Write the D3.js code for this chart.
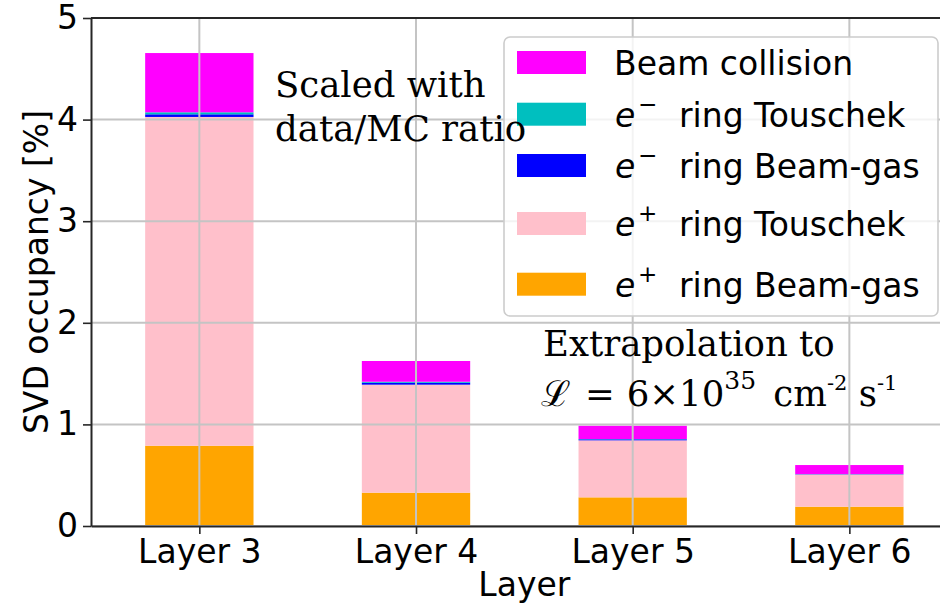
<!DOCTYPE html>
<html>
<head>
<meta charset="utf-8">
<script src="https://cdn.jsdelivr.net/npm/d3@7"></script>
<style>
  html, body { margin: 0; padding: 0; background: #fff; }
  svg { display: block; }
  text { font-family: "DejaVu Sans", sans-serif; fill: #000; }
  .serif { font-family: "DejaVu Serif", serif; }
</style>
</head>
<body>
<svg id="chart" width="940" height="606"></svg>
<script>
// SVD occupancy per layer, stacked by background source (values in %)
const categories = ["Layer 3", "Layer 4", "Layer 5", "Layer 6"];
const ePlusBeamGas   = [0.790, 0.328, 0.282, 0.190];
const ePlusTouschek  = [3.236, 1.063, 0.561, 0.318];
const eMinusBeamGas  = [0.026, 0.019, 0.010, 0.003];
const eMinusTouschek = [0.020, 0.010, 0.003, 0.001];
const beamCollision  = [0.583, 0.204, 0.131, 0.088];
const yTicks = [0, 1, 2, 3, 4, 5];

// stacking order, bottom to top
const seriesKeys   = ["ePlusBeamGas", "ePlusTouschek", "eMinusBeamGas", "eMinusTouschek", "beamCollision"];
const seriesColors = ["#ffa500", "#ffc0cb", "#0000ff", "#00bfbf", "#ff00ff"];

const rows = categories.map((c, i) => ({
  layer: c,
  ePlusBeamGas: ePlusBeamGas[i],
  ePlusTouschek: ePlusTouschek[i],
  eMinusBeamGas: eMinusBeamGas[i],
  eMinusTouschek: eMinusTouschek[i],
  beamCollision: beamCollision[i]
}));

const svg = d3.select("#chart");
const plotLeft = 91, plotRight = 957.7, plotTop = 18, plotBottom = 526;

const x = d3.scaleLinear().domain([-0.5, categories.length - 0.5]).range([plotLeft, plotRight]);
const y = d3.scaleLinear().domain([0, 5]).range([plotBottom, plotTop]);
const barWidth = 0.5;

// bars
const stacked = d3.stack().keys(seriesKeys)(rows);
const gBars = svg.append("g");
stacked.forEach((layer, si) => {
  gBars.selectAll(null)
    .data(layer)
    .enter().append("rect")
    .attr("x", (d, i) => x(i - barWidth / 2))
    .attr("width", x(barWidth) - x(0))
    .attr("y", d => y(d[1]))
    .attr("height", d => y(d[0]) - y(d[1]))
    .attr("fill", seriesColors[si]);
});

// grid lines, drawn over the bars
const gGrid = svg.append("g");
gGrid.selectAll(null).data(yTicks).enter().append("line")
  .attr("x1", plotLeft).attr("x2", 940)
  .attr("y1", d => y(d)).attr("y2", d => y(d))
  .attr("stroke", "#c4c4c4").attr("stroke-width", 2);
gGrid.selectAll(null).data(d3.range(categories.length)).enter().append("line")
  .attr("x1", d => x(d)).attr("x2", d => x(d))
  .attr("y1", plotTop).attr("y2", plotBottom)
  .attr("stroke", "#c4c4c4").attr("stroke-width", 2);

// axes
const yAxis = d3.axisLeft(y).tickValues(yTicks).tickFormat(d3.format("d"))
  .tickSize(8).tickSizeOuter(0).tickPadding(5);
const gy = svg.append("g").attr("transform", `translate(${plotLeft},0)`).call(yAxis);
gy.selectAll("text").style("font-size", "33px").style("font-family", "DejaVu Sans").attr("fill", "#000");

const xAxis = d3.axisBottom(x).tickValues(d3.range(categories.length))
  .tickFormat(i => categories[i]).tickSize(8).tickSizeOuter(0).tickPadding(6);
const gx = svg.append("g").attr("transform", `translate(0,${plotBottom})`).call(xAxis);
gx.selectAll("text").style("font-size", "33px").style("font-family", "DejaVu Sans").attr("fill", "#000");

[gx, gy].forEach(g => {
  g.select(".domain").attr("stroke", "#262626").attr("stroke-width", 2);
  g.selectAll(".tick line").attr("stroke", "#262626").attr("stroke-width", 1.6);
});
// top spine
svg.append("line").attr("x1", plotLeft).attr("x2", 940).attr("y1", plotTop).attr("y2", plotTop)
  .attr("stroke", "#262626").attr("stroke-width", 2);

// axis titles
svg.append("text").attr("x", (x(0) + x(3)) / 2).attr("y", 596)
  .attr("text-anchor", "middle").style("font-size", "33px").text("Layer");
svg.append("text").attr("transform", "translate(48,272) rotate(-90)")
  .attr("text-anchor", "middle").style("font-size", "33px").text("SVD occupancy [%]");

// legend
const legendItems = [
  { base: "Beam collision", sign: null, color: seriesColors[4] },
  { base: "ring Touschek", sign: "\u2212", color: seriesColors[3] },
  { base: "ring Beam-gas", sign: "\u2212", color: seriesColors[2] },
  { base: "ring Touschek", sign: "+", color: seriesColors[1] },
  { base: "ring Beam-gas", sign: "+", color: seriesColors[0] }
];
const legendRowBaselines = [38, 89.7, 141, 199, 259.7];
const lg = svg.append("g").attr("transform", "translate(504,37)");
lg.append("rect").attr("x", 0).attr("y", 0).attr("width", 434).attr("height", 279)
  .attr("rx", 6).attr("ry", 6)
  .attr("fill", "#fff").attr("fill-opacity", 0.8)
  .attr("stroke", "#cccccc").attr("stroke-width", 1.6);
legendItems.forEach((it, i) => {
  const b = legendRowBaselines[i];
  lg.append("rect").attr("x", 13).attr("y", b - 24).attr("width", 69).attr("height", 23)
    .attr("fill", it.color);
  if (it.sign === null) {
    lg.append("text").attr("x", 110).attr("y", b).style("font-size", "33px").text(it.base);
  } else {
    lg.append("text").attr("x", 111).attr("y", b).style("font-size", "33px")
      .style("font-style", "italic").text("e");
    lg.append("text").attr("x", 134).attr("y", b - 15).style("font-size", "23px").text(it.sign);
    lg.append("text").attr("x", 175).attr("y", b).style("font-size", "33px").text(it.base);
  }
});

// annotations
const ann = svg.append("g");
ann.append("text").attr("class", "serif").attr("x", 275).attr("y", 97)
  .style("font-size", "35.5px").text("Scaled with");
ann.append("text").attr("class", "serif").attr("x", 275).attr("y", 141)
  .style("font-size", "35.5px").text("data/MC ratio");
ann.append("text").attr("class", "serif").attr("x", 543).attr("y", 356)
  .style("font-size", "35.5px").text("Extrapolation to");
const lum = ann.append("text").attr("class", "serif").attr("x", 541).attr("y", 406)
  .style("font-size", "35.5px");
lum.append("tspan").text("\u2112");
lum.append("tspan").attr("dx", 14).text("=");
lum.append("tspan").attr("dx", 12).text("6\u00d710");
lum.append("tspan").attr("dy", -17).style("font-size", "25px").text("35");
lum.append("tspan").attr("dy", 17).attr("dx", 6).text(" cm");
lum.append("tspan").attr("dy", -16).style("font-size", "21px").text("-2");
lum.append("tspan").attr("dy", 16).text(" s");
lum.append("tspan").attr("dy", -16).style("font-size", "21px").text("-1");
</script>
</body>
</html>
